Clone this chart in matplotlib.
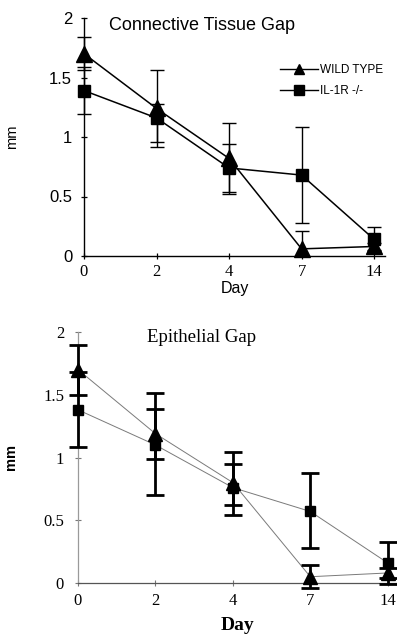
import matplotlib
matplotlib.use("Agg")
import matplotlib.pyplot as plt
from matplotlib.lines import Line2D
import numpy as np

days = ["0", "2", "4", "7", "14"]
y_ticks = [0, 0.5, 1, 1.5, 2]
y_tick_labels = ["0", "0.5", "1", "1.5", "2"]

# Connective Tissue Gap
ct_wt = [1.70, 1.24, 0.82, 0.06, 0.08]
ct_wt_lo = [0.14, 0.32, 0.30, 0.06, 0.03]
ct_wt_hi = [0.14, 0.32, 0.30, 0.15, 0.03]
ct_ko = [1.39, 1.16, 0.74, 0.68, 0.14]
ct_ko_lo = [0.20, 0.20, 0.20, 0.40, 0.10]
ct_ko_hi = [0.20, 0.12, 0.20, 0.40, 0.10]

# Epithelial Gap
ep_wt = [1.70, 1.19, 0.80, 0.05, 0.08]
ep_wt_lo = [0.20, 0.20, 0.26, 0.09, 0.04]
ep_wt_hi = [0.20, 0.20, 0.24, 0.09, 0.04]
ep_ko = [1.38, 1.10, 0.76, 0.57, 0.16]
ep_ko_lo = [0.30, 0.40, 0.14, 0.29, 0.17]
ep_ko_hi = [0.30, 0.41, 0.19, 0.31, 0.17]

W, H = 397, 637
fig = plt.figure(figsize=(W / 100, H / 100), dpi=100)

x = np.arange(len(days))

# ---------------- Top panel ----------------
ax1 = fig.add_axes([84 / W, 1 - 256 / H, 301 / W, 238 / H])
ax1.errorbar(x, ct_wt, yerr=[ct_wt_lo, ct_wt_hi], color="black", lw=1.1,
             marker="^", ms=11, elinewidth=1.0, capsize=5, capthick=1.0, clip_on=False, zorder=3)
ax1.errorbar(x, ct_ko, yerr=[ct_ko_lo, ct_ko_hi], color="black", lw=1.1,
             marker="s", ms=8.5, elinewidth=1.0, capsize=5, capthick=1.0, clip_on=False, zorder=3)
ax1.set_xlim(0, 4.15)
ax1.set_ylim(0, 2)
ax1.spines["top"].set_visible(False)
ax1.spines["right"].set_visible(False)
ax1.spines["left"].set_linewidth(1.0)
ax1.spines["bottom"].set_linewidth(1.0)
ax1.set_xticks(x)
ax1.set_xticklabels(days, fontfamily="Liberation Serif", fontsize=12)
ax1.set_yticks(y_ticks)
ax1.set_yticklabels(y_tick_labels, fontfamily="Liberation Sans", fontsize=12)
ax1.tick_params(axis="both", direction="inout", length=5, width=0.9, pad=3)
ax1.tick_params(axis="y", pad=6)
ax1.set_xlabel("Day", fontfamily="Liberation Sans", fontsize=11.5, labelpad=1)
ax1.set_ylabel("mm", fontfamily="Liberation Sans", fontsize=10.5, labelpad=22)
ax1.text(202 / W, 1 - 25 / H, "Connective Tissue Gap", transform=fig.transFigure,
         ha="center", va="center", fontfamily="Liberation Sans", fontsize=13)

handles = [
    Line2D([], [], color="black", lw=1.0, marker="^", ms=7),
    Line2D([], [], color="black", lw=1.0, marker="s", ms=7),
]
fig.legend(handles, ["WILD TYPE", "IL-1R -/-"], loc="upper left",
           bbox_to_anchor=(280 / W, 1 - 64 / H), frameon=False, borderpad=0,
           borderaxespad=0, handlelength=3.2, handletextpad=0.15, labelspacing=0.75,
           prop={"family": "Liberation Sans", "size": 8.5})

# ---------------- Bottom panel ----------------
ax2 = fig.add_axes([78 / W, 1 - 583 / H, 319 / W, 251 / H])
ax2.plot(x, ep_wt, color="#7a7a7a", lw=0.7, zorder=2)
ax2.plot(x, ep_ko, color="#7a7a7a", lw=0.7, zorder=2)
ax2.errorbar(x, ep_wt, yerr=[ep_wt_lo, ep_wt_hi], fmt="none", ecolor="black",
             elinewidth=2.0, capsize=6.5, capthick=2.0, clip_on=False, zorder=3)
ax2.errorbar(x, ep_ko, yerr=[ep_ko_lo, ep_ko_hi], fmt="none", ecolor="black",
             elinewidth=2.0, capsize=6.5, capthick=2.0, clip_on=False, zorder=3)
ax2.plot(x, ep_wt, ls="none", marker="^", ms=10, color="black", clip_on=False, zorder=4)
ax2.plot(x, ep_ko, ls="none", marker="s", ms=7, color="black", clip_on=False, zorder=4)
ax2.set_xlim(0, 4.12)
ax2.set_ylim(0, 2)
ax2.spines["top"].set_visible(False)
ax2.spines["right"].set_visible(False)
ax2.spines["left"].set_color("#9a9a9a")
ax2.spines["left"].set_linewidth(0.9)
ax2.spines["bottom"].set_color("#555555")
ax2.spines["bottom"].set_linewidth(0.9)
ax2.set_xticks(x)
ax2.set_xticklabels(days, fontfamily="Liberation Serif", fontsize=12)
ax2.set_yticks(y_ticks)
ax2.set_yticklabels(y_tick_labels, fontfamily="Liberation Serif", fontsize=12)
ax2.tick_params(axis="both", direction="inout", length=4, width=0.8, color="#777777")
ax2.tick_params(axis="x", pad=5)
ax2.tick_params(axis="y", pad=8)
ax2.set_xlabel("Day", fontfamily="Liberation Serif", fontsize=14, fontweight="bold", labelpad=6)
ax2.set_ylabel("mm", fontfamily="Liberation Sans", fontsize=10.5, fontweight="bold", labelpad=18)
ax2.text(202 / W, 1 - 337 / H, "Epithelial Gap", transform=fig.transFigure,
         ha="center", va="center", fontfamily="Liberation Serif", fontsize=13.5)

fig.savefig("out.png", dpi=100)
